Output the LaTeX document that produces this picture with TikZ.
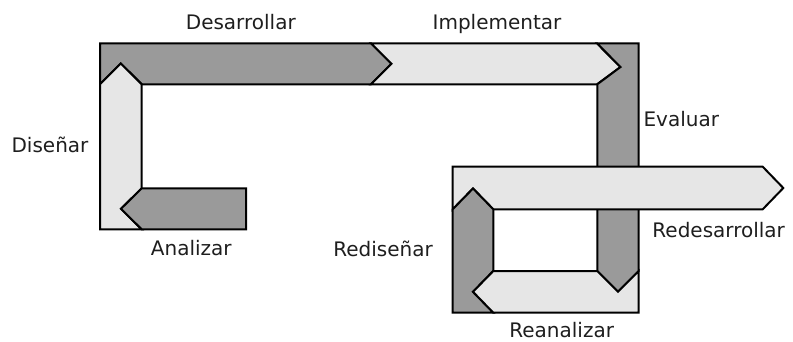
\documentclass[tikz,border=0pt]{standalone}
\usepackage{fontspec}
\setmainfont{DejaVu Sans}
\begin{document}
\begin{tikzpicture}[x=1pt,y=-1pt,
  band/.style={draw=black,line width=2pt,line join=miter},
  darkband/.style={band,fill=bandDark},
  lightband/.style={band,fill=bandLight},
  lbl/.style={anchor=base,inner sep=0pt,text=labelInk,font=\fontsize{20}{24}\selectfont}]
\definecolor{bandDark}{HTML}{9A9A9A}
\definecolor{bandLight}{HTML}{E6E6E6}
\definecolor{labelInk}{HTML}{1E1E1E}
\useasboundingbox (0,0) rectangle (793,341);

% first cycle
\draw[darkband] (100,43.3) -- (371,43.3) -- (391.5,63.8) -- (371,84.3) -- (141.7,84.3)
  -- (120.8,63.5) -- (100,84.3) -- cycle;
\draw[lightband] (371,43.3) -- (597,43.3) -- (620.5,67) -- (597,84.3) -- (371,84.3)
  -- (391.5,63.8) -- cycle;
\draw[darkband] (597,43.3) -- (638.7,43.3) -- (638.7,271) -- (618,291.8) -- (597.3,271)
  -- (597.3,84.3) -- (620.5,67) -- cycle;
\draw[lightband] (100,229.3) -- (141.7,229.3) -- (121,208.8) -- (141.7,188.3) -- (141.7,84.3)
  -- (120.8,63.5) -- (100,84.3) -- cycle;
\draw[darkband] (246,188.3) -- (141.7,188.3) -- (121,208.8) -- (141.7,229.3) -- (246,229.3) -- cycle;

% second cycle
\draw[lightband] (452.7,166.7) -- (762.7,166.7) -- (783.3,188) -- (762.7,209.3) -- (493.3,209.3)
  -- (473,188.5) -- (452.7,209.3) -- cycle;
\draw[darkband] (452.7,209.3) -- (473,188.5) -- (493.3,209.3) -- (493.3,271) -- (473,291.8)
  -- (493.3,312.7) -- (452.7,312.7) -- cycle;
\draw[lightband] (493.3,271) -- (597.3,271) -- (618,291.8) -- (638.7,271) -- (638.7,312.7)
  -- (493.3,312.7) -- (473,291.8) -- cycle;

% labels
\node[lbl] (desarrollar) at (240.8,29.3) {Desarrollar};
\node[lbl] (implementar) at (497,29.3) {Implementar};
\node[lbl] (evaluar) at (681.3,126.7) {Evaluar};
\node[lbl] (disenar) at (50,152.7) {Diseñar};
\node[lbl] (analizar) at (191.3,255) {Analizar};
\node[lbl] (redisenar) at (383,256.7) {Rediseñar};
\node[lbl] (redesarrollar) at (718.7,237.3) {Redesarrollar};
\node[lbl] (reanalizar) at (561.7,337) {Reanalizar};
\end{tikzpicture}
\end{document}
